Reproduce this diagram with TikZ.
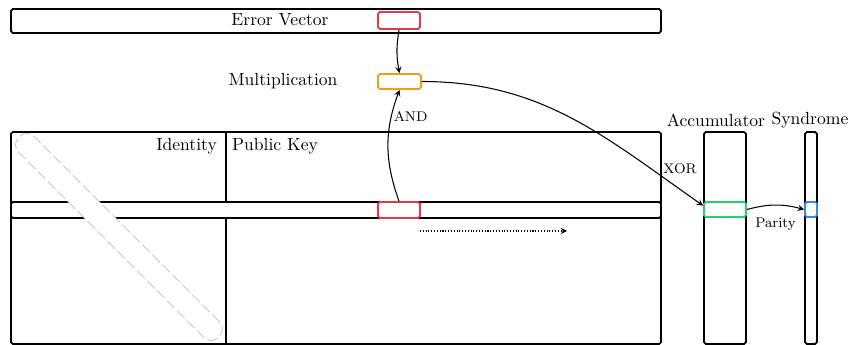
\documentclass[tikz,border=0pt]{standalone}
\usepackage{amsmath}
\usepackage{xcolor}
\usepackage{tikz}
\usetikzlibrary{
    calc,
    arrows,
    shapes.geometric
}
\definecolor{bitred}{HTML}{E63946}
\definecolor{bitorange}{HTML}{E5A11A}
\definecolor{bitgreen}{HTML}{2ECC71}
\definecolor{bitblue}{HTML}{3A86E0}
\tikzset{
    vecbar/.style={draw, line width=1pt, rounded corners=1pt, inner sep=0pt, fill=white},
    bitbox/.style={draw=#1, line width=1pt, rounded corners=1pt, inner sep=0pt, fill=white,
        minimum width=0.84cm, minimum height=0.32cm},
    diagband/.style={draw=gray!50, dash pattern=on 6pt off 2pt, fill=white, inner sep=0pt,
        rounded corners=0.2cm, minimum width=5.65cm, minimum height=0.44cm, rotate=-45},
    opname/.style={font=\footnotesize, inner sep=1pt}
}

\begin{document}
\begin{tikzpicture}[x=0.02cm, y=0.02cm, >=stealth]
        \useasboundingbox (0,0) rectangle (850,345);

        % error vector
        \draw (336,324) node[vecbar, minimum width=13cm, minimum height=0.48cm](ev){};
        \draw (280,325) node(evlabel){Error Vector};
        \draw (399,324.5) node[bitbox=bitred, minimum height=0.34cm](evbit){};

        % multiplication
        \draw (283,264) node(mullabel){Multiplication};
        \draw (399.5,263.5) node[bitbox=bitorange, minimum width=0.86cm, minimum height=0.3cm](mul){};

        % parity check matrix
        \draw[line width=1pt, rounded corners=1pt] (11,1) rectangle (661,213);
        \draw[line width=1pt] (226,1) -- (226,213);
        \draw (336,135) node[vecbar, minimum width=13cm, minimum height=0.32cm](row){};
        \draw (399,135) node[bitbox=bitred](rowbit){};
        \draw (119,108) node[diagband](diag){};
        \draw (223,199) node[anchor=east](idlabel){Identity};
        \draw (226,199) node[anchor=west](pklabel){Public Key};

        % accumulator and syndrome
        \draw (725,107) node[vecbar, minimum width=0.84cm, minimum height=4.24cm](acc){};
        \draw (725,135.5) node[bitbox=bitgreen, minimum height=0.3cm](accbit){};
        \draw (716,225) node(acclabel){Accumulator};
        \draw (811,107) node[vecbar, minimum width=0.24cm, minimum height=4.24cm](syn){};
        \draw (811,135.5) node[bitbox=bitblue, minimum width=0.24cm, minimum height=0.3cm](synbit){};
        \draw (810,225) node(synlabel){Syndrome};

        % connectors
        \coordinate (scanstart) at (420,114);
        \coordinate (scanend) at (567,114);
        \draw[semithick, ->] (evbit.south) to[bend right=10] (mul.north);
        \draw[semithick, ->] (rowbit.north) to[bend left=20] node[opname, pos=0.77, right]{AND} (mul.south);
        \draw[semithick, ->] (mul.east) to[out=0, in=145] node[opname, pos=0.85, above right]{XOR} (accbit.170);
        \draw[semithick, ->] (accbit.east) to[bend left=15] node[opname, below=6pt]{Parity} (synbit.west);
        \draw[semithick, densely dotted, ->] (scanstart) -- (scanend);
\end{tikzpicture}
\end{document}
